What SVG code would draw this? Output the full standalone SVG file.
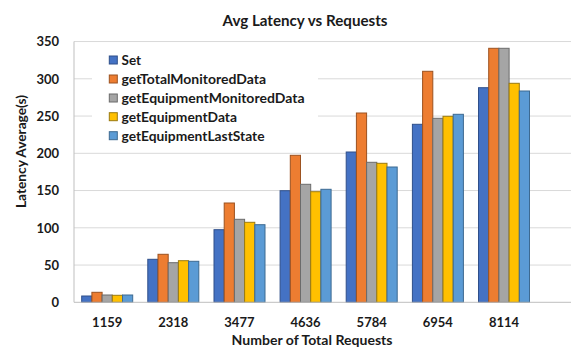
<svg xmlns="http://www.w3.org/2000/svg" width="571" height="347" viewBox="0 0 571 347">
<style>
text{font-family:Lato,"Open Sans","Liberation Sans",sans-serif;font-weight:bold;fill:#1a1a1a}
.grid{stroke:#d9d9d9;stroke-width:1}
.axis{stroke:#bfbfbf;stroke-width:1}
.s1{fill:#4472c4;stroke:#2f4f8a;stroke-width:1}
.s2{fill:#ed7d31;stroke:#9c5220;stroke-width:1}
.s3{fill:#a5a5a5;stroke:#6b6b6b;stroke-width:1}
.s4{fill:#ffc000;stroke:#9a7a10;stroke-width:1}
.s5{fill:#5b9bd5;stroke:#3d6a91;stroke-width:1}
.yt{font-size:13px;text-anchor:end}
.xt{font-size:13px;text-anchor:middle}
.lg{font-size:13.5px}
</style>
<rect width="571" height="347" fill="#ffffff"/>
<text x="305" y="26" font-size="15.5" text-anchor="middle" textLength="165" lengthAdjust="spacingAndGlyphs">Avg Latency vs Requests</text>
<g id="gridlines">
<line class="grid" x1="74" y1="265.05" x2="571" y2="265.05"/>
<line class="grid" x1="74" y1="227.8" x2="571" y2="227.8"/>
<line class="grid" x1="74" y1="190.55" x2="571" y2="190.55"/>
<line class="grid" x1="74" y1="153.3" x2="571" y2="153.3"/>
<line class="grid" x1="74" y1="116.05" x2="571" y2="116.05"/>
<line class="grid" x1="74" y1="78.8" x2="571" y2="78.8"/>
<line class="grid" x1="74" y1="41.55" x2="571" y2="41.55"/>
</g>
<g id="y-axis">
<line class="axis" x1="74" y1="41.5" x2="74" y2="302.3"/>
<text class="yt" x="59" y="307">0</text>
<text class="yt" x="59" y="269.8">50</text>
<text class="yt" x="59" y="232.5">100</text>
<text class="yt" x="59" y="195.3">150</text>
<text class="yt" x="59" y="158">200</text>
<text class="yt" x="59" y="120.8">250</text>
<text class="yt" x="59" y="83.5">300</text>
<text class="yt" x="59" y="46.3">350</text>
<text x="26" y="151.5" font-size="12.5" text-anchor="middle" transform="rotate(-90 26 151.5)" textLength="113" lengthAdjust="spacingAndGlyphs">Latency Average(s)</text>
</g>
<g id="bars">
<g id="cat-1159">
<rect class="s1" x="81.7" y="296" width="10.2" height="6.3"/>
<rect class="s2" x="91.9" y="292.3" width="10.2" height="10"/>
<rect class="s3" x="102.1" y="295" width="10.2" height="7.3"/>
<rect class="s4" x="112.3" y="295.3" width="10.2" height="7"/>
<rect class="s5" x="122.5" y="295" width="10.2" height="7.3"/>
</g>
<g id="cat-2318">
<rect class="s1" x="147.8" y="259.3" width="10.2" height="43"/>
<rect class="s2" x="158" y="254.3" width="10.2" height="48"/>
<rect class="s3" x="168.2" y="262.7" width="10.2" height="39.6"/>
<rect class="s4" x="178.4" y="260.7" width="10.2" height="41.6"/>
<rect class="s5" x="188.6" y="261.3" width="10.2" height="41"/>
</g>
<g id="cat-3477">
<rect class="s1" x="214" y="229.7" width="10.2" height="72.6"/>
<rect class="s2" x="224.2" y="203" width="10.2" height="99.3"/>
<rect class="s3" x="234.4" y="219.3" width="10.2" height="83"/>
<rect class="s4" x="244.6" y="222.3" width="10.2" height="80"/>
<rect class="s5" x="254.8" y="224.7" width="10.2" height="77.6"/>
</g>
<g id="cat-4636">
<rect class="s1" x="280.1" y="190.7" width="10.2" height="111.6"/>
<rect class="s2" x="290.3" y="155.3" width="10.2" height="147"/>
<rect class="s3" x="300.5" y="184.3" width="10.2" height="118"/>
<rect class="s4" x="310.7" y="191.7" width="10.2" height="110.6"/>
<rect class="s5" x="320.9" y="189.3" width="10.2" height="113"/>
</g>
<g id="cat-5784">
<rect class="s1" x="346.2" y="152" width="10.2" height="150.3"/>
<rect class="s2" x="356.4" y="113" width="10.2" height="189.3"/>
<rect class="s3" x="366.6" y="162.3" width="10.2" height="140"/>
<rect class="s4" x="376.8" y="163.3" width="10.2" height="139"/>
<rect class="s5" x="387" y="167" width="10.2" height="135.3"/>
</g>
<g id="cat-6954">
<rect class="s1" x="412.4" y="124.3" width="10.2" height="178"/>
<rect class="s2" x="422.6" y="71.3" width="10.2" height="231"/>
<rect class="s3" x="432.8" y="118.3" width="10.2" height="184"/>
<rect class="s4" x="443" y="116.3" width="10.2" height="186"/>
<rect class="s5" x="453.2" y="114.3" width="10.2" height="188"/>
</g>
<g id="cat-8114">
<rect class="s1" x="478.5" y="87.7" width="10.2" height="214.6"/>
<rect class="s2" x="488.7" y="48.3" width="10.2" height="254"/>
<rect class="s3" x="498.9" y="48.3" width="10.2" height="254"/>
<rect class="s4" x="509.1" y="83.3" width="10.2" height="219"/>
<rect class="s5" x="519.3" y="91" width="10.2" height="211.3"/>
</g>
</g>
<g id="x-axis">
<line class="axis" x1="74" y1="302.3" x2="571" y2="302.3"/>
<text class="xt" x="107.2" y="326.7">1159</text>
<text class="xt" x="173.3" y="326.7">2318</text>
<text class="xt" x="239.4" y="326.7">3477</text>
<text class="xt" x="305.6" y="326.7">4636</text>
<text class="xt" x="371.7" y="326.7">5784</text>
<text class="xt" x="437.8" y="326.7">6954</text>
<text class="xt" x="504" y="326.7">8114</text>
<text x="312" y="345" font-size="13.5" text-anchor="middle" textLength="161" lengthAdjust="spacingAndGlyphs">Number of Total Requests</text>
</g>
<g id="legend">
<rect x="92" y="47" width="226" height="101" fill="#ffffff"/>
<rect class="s1" x="109.3" y="56" width="8" height="8"/>
<text class="lg" x="121.5" y="64.8">Set</text>
<rect class="s2" x="109.3" y="75" width="8" height="8"/>
<text class="lg" x="121.5" y="83.8" textLength="144.5" lengthAdjust="spacingAndGlyphs">getTotalMonitoredData</text>
<rect class="s3" x="109.3" y="94" width="8" height="8"/>
<text class="lg" x="121.5" y="102.8" textLength="183" lengthAdjust="spacingAndGlyphs">getEquipmentMonitoredData</text>
<rect class="s4" x="109.3" y="112.7" width="8" height="8"/>
<text class="lg" x="121.5" y="121.5" textLength="115.5" lengthAdjust="spacingAndGlyphs">getEquipmentData</text>
<rect class="s5" x="109.3" y="131.7" width="8" height="8"/>
<text class="lg" x="121.5" y="140.5" textLength="143" lengthAdjust="spacingAndGlyphs">getEquipmentLastState</text>
</g>
</svg>
